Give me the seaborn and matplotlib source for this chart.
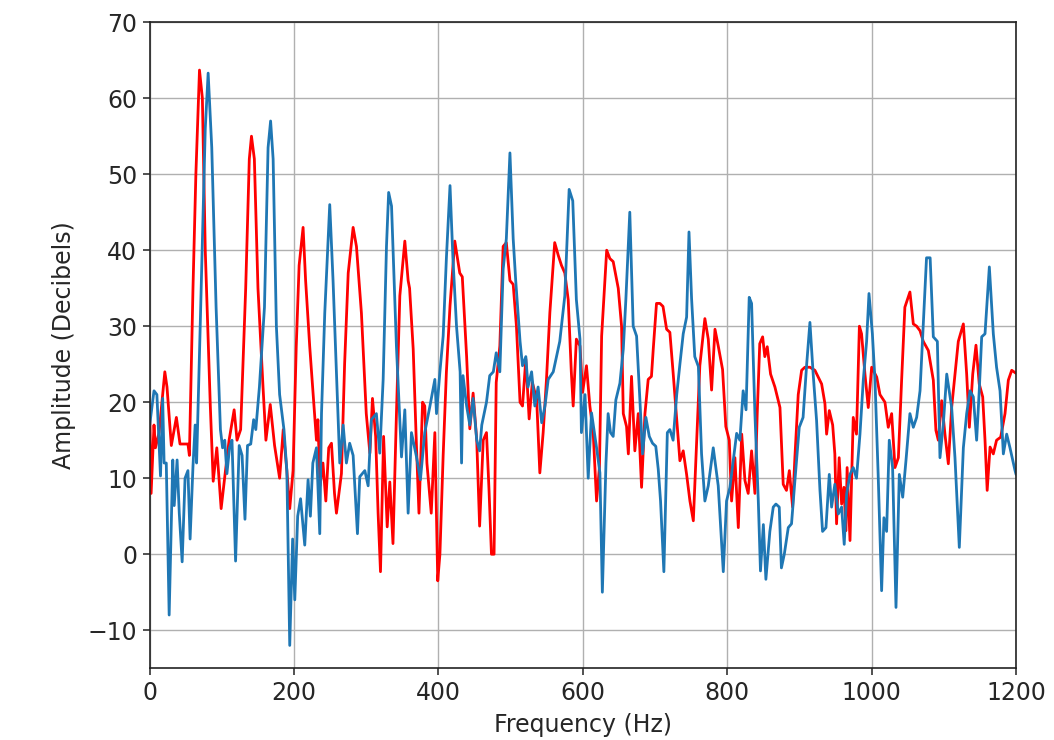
import matplotlib
matplotlib.use("Agg")
import matplotlib.pyplot as plt
import seaborn as sns
import pandas as pd

red_freq = [0, 2, 6, 8, 13, 21, 24, 30, 37, 42, 53, 55, 60, 64, 69, 73, 77, 84, 88, 93, 99, 105, 110, 117, 121, 126,
            133, 138, 141, 145, 150, 157, 161, 167, 173, 180, 185, 190, 194, 198.6, 203, 207, 212.5, 216, 221.7, 231,
            233, 236, 240, 244, 248, 251.8, 256, 258.7, 265.6, 270, 275, 281.8, 286.4, 293.3, 300, 305, 308.6, 313,
            316.4, 319.7, 324, 329, 332.6, 337, 341.8, 346.5, 353.4, 358, 360, 365, 369.6, 373, 378, 381, 384, 390,
            395, 399, 402, 406.5, 411, 416, 422.6, 429.5, 433, 439, 443.4, 448, 453, 457, 462, 466.5, 470, 473.4, 477,
            480, 485, 489.6, 494, 499, 503.5, 508, 513, 516.4, 521, 525.6, 530, 536, 540.4, 545, 549.6, 554.3, 561,
            566, 570.4, 575, 579.7, 584, 586.6, 591, 596, 599.6, 605, 609.7, 614.3, 619, 623, 626, 633, 637.4, 642,
            649, 653.6, 656, 660.5, 663, 667.4, 672, 676.7, 681.3, 686, 690.5, 695, 697.5, 702, 706.7, 711, 716,
            720.5, 725, 729.8, 734.4, 739, 743.7, 748.3, 753, 757.5, 762, 769, 773.7, 778.3, 783, 787.5, 793.5, 798,
            802.8, 806, 810.6, 815.3, 820, 824.5, 829, 833.7, 838.3, 841.5, 845, 849, 852, 855.4, 860, 866, 873,
            877.5, 882, 886, 890.5, 893.7, 898.3, 903, 907.5, 914.5, 921.4, 926, 930.7, 935.3, 937.6, 941.3, 946,
            949, 951.4, 955, 958.4, 961.6, 964.4, 966, 970, 974.5, 979, 983, 986, 990.7, 995.3, 1000, 1007, 1011.5,
            1018.4, 1023, 1027.7, 1032.3, 1037, 1041.5, 1046, 1053, 1057.7, 1062.3, 1067, 1071.5, 1078.5, 1085.4,
            1089, 1092.3, 1097, 1101.5, 1106.2, 1110.8, 1115.4, 1120, 1127, 1131.6, 1135.3, 1140, 1144.5, 1149,
            1153.8, 1157, 1160, 1164, 1168.5, 1173, 1178.7, 1184.7, 1189.3, 1194, 1200]
red_db = [19.5, 8, 17, 14, 16, 24, 22, 14.3, 18, 14.5, 14.5, 13, 35, 50, 63.7, 60, 40, 19.5, 9.6, 14, 6, 11, 15, 19, 15, 16.4,
          35, 52, 55, 52, 35, 22, 15, 19.7, 14.3, 10, 16.4, 11, 6, 11, 27.3, 38, 43, 36, 27.3, 15,
          17.7, 9, 12, 7, 14, 14.6, 8, 5.4, 10.6, 25, 37, 43, 40.5, 31.7, 18.5, 13.3, 20.5, 15.5,
          5.4, -2.3, 15.5, 3.6, 9.5, 1.4, 18.5, 34, 41.2, 36, 35, 27, 14, 5.4, 20, 19.5, 12, 5.4,
          16, -3.5, 0, 13, 24, 32.7, 41.2, 37, 36.5, 26, 16.5, 21.2, 15, 3.7, 15, 16, 8.5, 0, 0,
          22.6, 27.4, 40.5, 41, 36, 35.5, 30, 20, 19.5, 25.7, 17.8, 22.6, 20.4, 10.7, 16, 23, 31.8, 41,
          39.3, 38, 37, 33.5, 24, 19.5, 28.3, 27.4, 21.3, 24.8, 19.5, 16, 7, 11.5, 28.7, 40, 38.9, 38.5,
          35, 30, 18.5, 16.8, 13.2, 23.4, 13.6, 18.5, 8.8, 18.5, 23, 23.4, 27, 33, 33, 32.6, 29.6,
          29.2, 23.9, 18, 12.3, 13.6, 10.5, 7, 4.4, 14.6, 24.8, 31, 28.3, 21.6, 29.6, 27.4, 24.3, 16.8,
          15, 7, 12.7, 3.5, 15.8, 9.7, 8, 13.6, 8, 18.5, 27.7, 28.6, 26, 27.3, 23.7, 22, 19.3,
          9.2, 8.4, 11, 6.2, 12.8, 21, 24.2, 24.6, 24.6, 24.2, 23.3, 22.4, 19.8, 15.8, 18.9, 17,
          13.2, 4, 12.7, 6.6, 8.8, 3.1, 11.4, 1.8, 18, 15.8, 30, 29, 23.7, 19.3, 24.6, 23.3, 21,
          20, 16.7, 18.5, 11.4, 12.7, 22.9, 32.5, 34.5, 30.3, 30, 29.4, 28, 26.8, 22.9,
          16.3, 15, 20.2, 15.8, 11.9, 19.3, 23.7, 28, 30.3, 23.7, 16.7, 23.7, 27.5, 22.4,
          20.7, 15, 8.4, 14.1, 13.2, 15, 15.4, 18.5, 22.9, 24.2, 23.8]

blue_freq = [0, 6, 10, 15, 18, 20, 23, 27, 32, 34, 38, 41, 45, 49, 53, 56, 60, 63, 65, 70, 77, 81, 86, 92, 98, 101, 104,
             107, 110.6, 114, 119, 124, 128, 132, 135.5, 140, 144, 147, 152, 159, 164, 167.5, 171, 175.5, 180, 186,
             190, 194, 198, 201, 205, 209, 214.8, 219.4, 222.6, 226, 231, 235.6, 238, 242.5, 249.4, 254, 258.7,
             263.3, 268, 272.5, 277, 281.8, 287.8, 291, 298, 302.6, 307, 314, 318.7, 323.4, 328, 331, 335, 341.8,
             348.8, 353.4, 358, 362.6, 369.6, 375, 381, 388, 395, 397.3, 402, 406.5, 411, 416, 420, 425, 430, 432,
             434, 439, 443.4, 448, 453, 457, 460, 466.5, 471, 476, 480, 485, 489.6, 494, 499, 503.5, 507, 513,
             516.4, 521, 524, 529, 533.5, 538, 543, 547.5, 552, 559, 563.5, 568, 575, 581, 586, 591, 596, 598, 603,
             607.4, 612, 619, 623.6, 627, 632, 635, 638.3, 642, 645.7, 651.3, 656, 659.6, 665, 669.7, 674.4, 679,
             682.7, 687.3, 692, 696.5, 701, 704.4, 707.6, 712.2, 717, 720.5, 725, 730, 734.4, 739, 743.7, 747,
             750.6, 755, 760, 764.4, 769, 773.7, 780.6, 787.5, 794.5, 799, 803.7, 808.3, 813, 817.5, 822, 826,
             830.4, 833.7, 838.3, 843, 846, 850, 853.5, 859, 863.7, 867.4, 872, 875, 879, 884.5, 889, 893.7,
             899.7, 905, 910, 914.5, 919, 923.7, 928.4, 932, 936.7, 941.3, 944.5, 949, 953.8, 958.4, 962, 965.3,
             970, 974.5, 979, 983.8, 988.4, 993, 996.3, 1001, 1004.6, 1009, 1013.8, 1017, 1020.7, 1024.4, 1029,
             1033.7, 1038.3, 1043, 1047.5, 1053, 1057.7, 1062.3, 1067, 1071.5, 1076, 1081, 1085.4, 1091, 1094.6,
             1099.3, 1104, 1110.8, 1115.4, 1121.4, 1127, 1131.6, 1136.2, 1140.8, 1145.4, 1149, 1152.4, 1157, 1163,
             1168.5, 1173, 1177.8, 1182.4, 1187, 1191.6, 1198.6, 1200]
blue_db = [17, 21.5, 21, 10.3, 20.5, 12, 12, -8, 12.4, 6.4, 12.4, 5.4, -1, 10, 11, 2, 11.6, 17, 12, 30, 56, 63.3, 53.5, 32.5, 16.4, 14, 15,
           10.6, 14, 15, -0.9, 14.3, 13, 4.6, 14.3, 14.5, 17.7, 16.4, 22, 32.5, 53.5, 57, 52, 30, 21, 16.4,
           11, -12, 2, -6, 5, 7.3, 1.2, 9.8, 5, 12, 14, 2.7, 18.5, 31.7, 46, 36, 23.8,
           12, 17, 12, 14.6, 13, 2.7, 10.2, 11, 9, 17.7, 18.5, 13.3, 23, 40.5, 47.6, 45.8, 27.3,
           12.8, 19, 5.4, 16, 12.8, 9.8, 16, 19.4, 23, 18.5, 24, 28.7, 39, 48.5, 39, 30, 24, 12,
           23.5, 19.5, 17, 20.5, 15, 13.6, 17, 20, 23.5, 24, 26.5, 24, 37.5, 41.5, 52.8, 41.5, 36, 28,
           24.8, 26, 22, 24, 19.5, 22, 17.3, 19.5, 23, 24, 26, 28, 34, 48, 46.5, 33.5, 28.3, 16, 21,
           10, 18.6, 14, 10.7, -5, 12, 18.5, 16, 15.5, 20.3, 22.5, 27, 33.6, 45, 30, 28.7, 20.3,
           13.2, 18, 15.5, 14.6, 14.2, 11.2, 7, -2.3, 16, 16.4, 15, 21, 25, 29, 31.2, 42.4,
           33.6, 26, 24.7, 13.2, 7, 9, 14, 9, -2.3, 7, 8.8, 12.3, 15.9, 15, 21.5, 19,
           33.8, 33, 18.5, 7, -2.2, 3.9, -3.3, 3, 6.2, 6.6, 6.2, -1.8, 0, 3.5, 4, 9.7,
           16.7, 18, 25, 30.5, 23.7, 17.6, 8.4, 3, 3.5, 10.5, 6.2, 9.2, 5.3, 6.2, 1.3, 7.9,
           10.5, 11.4, 10, 15.8, 22.9, 28, 34.3, 29, 22.9, 10.5, -4.8, 4.8, 3, 15, 11.4,
           -7, 10.5, 7.5, 12.3, 18.5, 16.7, 18, 21.5, 30.3, 39, 39, 28.6, 28, 12.7,
           17.2, 23.7, 19.3, 12.7, 0.9, 14, 18.5, 21.5, 20.7, 15, 21.5, 28.6, 29, 37.8,
           29, 24.6, 21.5, 13.2, 15.8, 14, 11, 10.5]

x_ticks = [0, 200, 400, 600, 800, 1000, 1200]
y_ticks = [-10, 0, 10, 20, 30, 40, 50, 60, 70]

red_df = pd.DataFrame({"Frequency": red_freq, "Amplitude": red_db})
blue_df = pd.DataFrame({"Frequency": blue_freq, "Amplitude": blue_db})

sns.set_style("ticks")
plt.rcParams["font.family"] = ["DejaVu Sans"]
FS = 17

fig, ax = plt.subplots(figsize=(10.54, 7.4), dpi=100)
fig.subplots_adjust(left=0.142, right=0.964, top=0.97, bottom=0.097)

sns.lineplot(data=red_df, x="Frequency", y="Amplitude", color="#ff0000", lw=2.0, ax=ax,
             estimator=None, sort=False)
sns.lineplot(data=blue_df, x="Frequency", y="Amplitude", color="#1f77b4", lw=2.0, ax=ax,
             estimator=None, sort=False)

ax.set_xlim(0, 1200)
ax.set_ylim(-15, 70)
ax.set_xticks(x_ticks)
ax.set_yticks(y_ticks)
ax.set_yticklabels(["\u221210" if v < 0 else str(v) for v in y_ticks])
ax.tick_params(labelsize=FS, length=5, width=1.2, color="#333333", direction="out", pad=4)
ax.grid(True, color="#b0b0b0", lw=1.0)
for sp in ax.spines.values():
    sp.set_color("#222222")
    sp.set_linewidth(1.2)
ax.set_xlabel("Frequency (Hz)", fontsize=FS, labelpad=6)
ax.set_ylabel("Amplitude (Decibels)", fontsize=FS, labelpad=8)

fig.savefig("out.png", dpi=100)
